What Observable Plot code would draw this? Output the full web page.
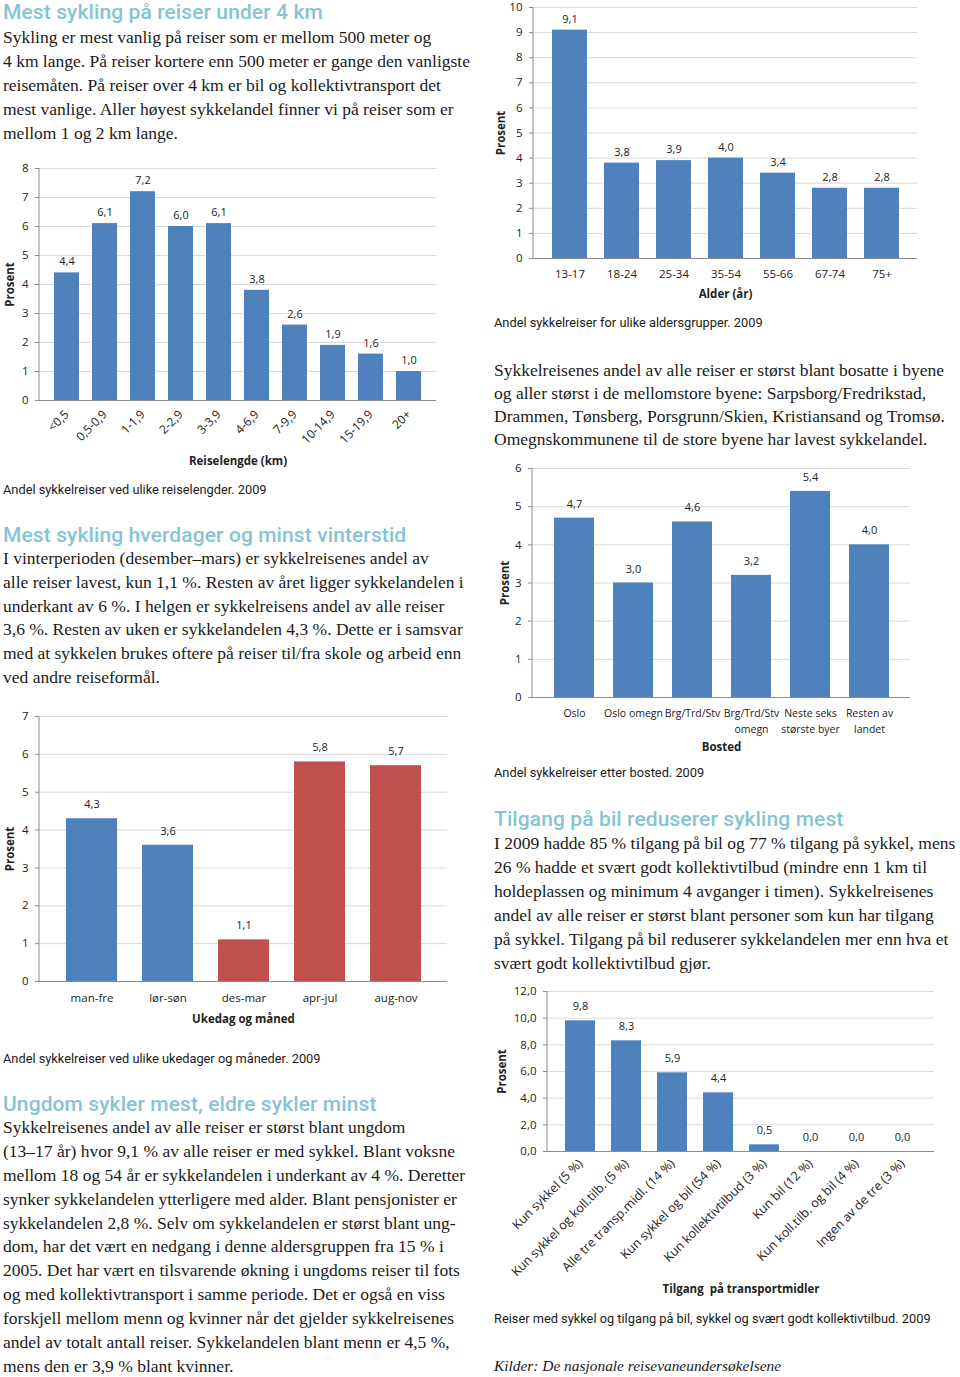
<!DOCTYPE html>
<html>
<head>
<meta charset="utf-8">
<script src="https://cdn.jsdelivr.net/npm/d3@7"></script>
<script src="https://cdn.jsdelivr.net/npm/@observablehq/plot@0.6"></script>
<style>
  body { margin: 0; background: #fff; }
  #page { position: relative; width: 960px; height: 1377px; overflow: hidden; background: #fff; }
  .h { position: absolute; font-family: Roboto, sans-serif; font-weight: 500; font-size: 21px; line-height: 26px; color: #86c4d4; white-space: nowrap; letter-spacing: 0.1px; }
  .p { position: absolute; font-family: "Liberation Serif", serif; font-size: 17.5px; color: #1a1a1a; white-space: nowrap; }
  .cap { position: absolute; font-family: Roboto, sans-serif; font-size: 12.8px; line-height: 16px; color: #1a1a1a; white-space: nowrap; }
  .src { position: absolute; font-family: "Liberation Serif", serif; font-style: italic; font-size: 15.4px; line-height: 20px; color: #1a1a1a; white-space: nowrap; }
  svg.chart { position: absolute; }
</style>
</head>
<body>
<div id="page"></div>
<script>
// ---------- data ----------
const lengthCats = ["<0,5", "0,5-0,9", "1-1,9", "2-2,9", "3-3,9", "4-6,9", "7-9,9", "10-14,9", "15-19,9", "20+"];
const lengthVals = [4.4, 6.1, 7.2, 6.0, 6.1, 3.8, 2.6, 1.9, 1.6, 1.0];

const periodCats = ["man-fre", "lør-søn", "des-mar", "apr-jul", "aug-nov"];
const periodVals = [4.3, 3.6, 1.1, 5.8, 5.7];
const periodGroup = ["Ukedag", "Ukedag", "Måned", "Måned", "Måned"];

const ageCats = ["13-17", "18-24", "25-34", "35-54", "55-66", "67-74", "75+"];
const ageVals = [9.1, 3.8, 3.9, 4.0, 3.4, 2.8, 2.8];

const homeCats = ["Oslo", "Oslo omegn", "Brg/Trd/Stv", "Brg/Trd/Stv\nomegn", "Neste seks\nstørste byer", "Resten av\nlandet"];
const homeVals = [4.7, 3.0, 4.6, 3.2, 5.4, 4.0];

const accessCats = ["Kun sykkel (5 %)", "Kun sykkel og koll.tilb. (5 %)", "Alle tre transp.midl. (14 %)", "Kun sykkel og bil (54 %)", "Kun kollektivtilbud (3 %)", "Kun bil (12 %)", "Kun koll.tilb. og bil (4 %)", "Ingen av de tre (3 %)"];
const accessVals = [9.8, 8.3, 5.9, 4.4, 0.5, 0.0, 0.0, 0.0];

// ---------- texts ----------
const head1 = "Mest sykling på reiser under 4 km";
const para1 = [
  "Sykling er mest vanlig på reiser som er mellom 500 meter og",
  "4 km lange. På reiser kortere enn 500 meter er gange den vanligste",
  "reisemåten. På reiser over 4 km er bil og kollektivtransport det",
  "mest vanlige. Aller høyest sykkelandel finner vi på reiser som er",
  "mellom 1 og 2 km lange."
];
const head2 = "Mest sykling hverdager og minst vinterstid";
const para2 = [
  "I vinterperioden (desember–mars) er sykkelreisenes andel av",
  "alle reiser lavest, kun 1,1 %. Resten av året ligger sykkelandelen i",
  "underkant av 6 %. I helgen er sykkelreisens andel av alle reiser",
  "3,6 %. Resten av uken er sykkelandelen 4,3 %. Dette er i samsvar",
  "med at sykkelen brukes oftere på reiser til/fra skole og arbeid enn",
  "ved andre reiseformål."
];
const head3 = "Ungdom sykler mest, eldre sykler minst";
const para3 = [
  "Sykkelreisenes andel av alle reiser er størst blant ungdom",
  "(13–17 år) hvor 9,1 % av alle reiser er med sykkel. Blant voksne",
  "mellom 18 og 54 år er sykkelandelen i underkant av 4 %. Deretter",
  "synker sykkelandelen ytterligere med alder. Blant pensjonister er",
  "sykkelandelen 2,8 %. Selv om sykkelandelen er størst blant ung-",
  "dom, har det vært en nedgang i denne aldersgruppen fra 15 % i",
  "2005. Det har vært en tilsvarende økning i ungdoms reiser til fots",
  "og med kollektivtransport i samme periode. Det er også en viss",
  "forskjell mellom menn og kvinner når det gjelder sykkelreisenes",
  "andel av totalt antall reiser. Sykkelandelen blant menn er 4,5 %,",
  "mens den er 3,9 % blant kvinner."
];
const head4 = "Tilgang på bil reduserer sykling mest";
const para4 = [
  "I 2009 hadde 85 % tilgang på bil og 77 % tilgang på sykkel, mens",
  "26 % hadde et svært godt kollektivtilbud (mindre enn 1 km til",
  "holdeplassen og minimum 4 avganger i timen). Sykkelreisenes",
  "andel av alle reiser er størst blant personer som kun har tilgang",
  "på sykkel. Tilgang på bil reduserer sykkelandelen mer enn hva et",
  "svært godt kollektivtilbud gjør."
];
const para5 = [
  "Sykkelreisenes andel av alle reiser er størst blant bosatte i byene",
  "og aller størst i de mellomstore byene: Sarpsborg/Fredrikstad,",
  "Drammen, Tønsberg, Porsgrunn/Skien, Kristiansand og Tromsø.",
  "Omegnskommunene til de store byene har lavest sykkelandel."
];
const cap1 = "Andel sykkelreiser ved ulike reiselengder. 2009";
const cap2 = "Andel sykkelreiser ved ulike ukedager og måneder. 2009";
const cap3 = "Andel sykkelreiser for ulike aldersgrupper. 2009";
const cap4 = "Andel sykkelreiser etter bosted. 2009";
const cap5 = "Reiser med sykkel og tilgang på bil, sykkel og svært godt kollektivtilbud. 2009";
const source = "Kilder: De nasjonale reisevaneundersøkelsene";

// ---------- layout helpers ----------
const page = document.getElementById("page");
function addDiv(cls, x, top, html, lh) {
  const d = document.createElement("div");
  d.className = cls;
  d.style.left = x + "px";
  d.style.top = top + "px";
  if (lh) d.style.lineHeight = lh + "px";
  d.innerHTML = html;
  page.appendChild(d);
}
const esc = s => s.replace(/&/g, "&amp;").replace(/</g, "&lt;");
function heading(x, cy, text) { addDiv("h", x, cy - 13, esc(text)); }
function para(x, firstCy, lh, lines) { addDiv("p", x, firstCy - lh / 2, lines.map(esc).join("<br>"), lh); }
function caption(x, cy, text) { addDiv("cap", x, cy - 8, esc(text)); }

heading(3, 12, head1);
para(3, 37, 24, para1);
heading(3, 535, head2);
para(3, 559, 23.8, para2);
heading(3, 1104, head3);
para(3, 1128, 23.87, para3);
heading(494, 819, head4);
para(494, 843.3, 24, para4);
para(494, 370.7, 23.1, para5);
caption(3, 490, cap1);
caption(3, 1059, cap2);
caption(494, 323, cap3);
caption(494, 773, cap4);
caption(494, 1319, cap5);
addDiv("src", 494, 1356, esc(source));

// ---------- chart helper ----------
const BLUE = "#4f81bd", RED = "#c0504d";
const comma1 = v => d3.format(".1f")(v).replace(".", ",");

function yAxisLine(max) {
  return (index, scales, values, dims) =>
    d3.create("svg:line")
      .attr("x1", dims.marginLeft).attr("x2", dims.marginLeft)
      .attr("y1", scales.y(max)).attr("y2", scales.y(0))
      .attr("stroke", "#8c8c8c").node();
}

function barChart(o) {
  const data = o.cats.map((c, i) => ({c, v: o.vals[i], g: o.groups ? o.groups[i] : "A"}));
  const ticks = d3.range(0, o.yMax + 1e-9, o.yStep);
  const svg = Plot.plot({
    width: o.width, height: o.height,
    marginLeft: o.m[0], marginRight: o.m[1], marginTop: o.m[2], marginBottom: o.m[3],
    style: {fontFamily: "'Open Sans', sans-serif", fontSize: "11px", color: "#222", background: "transparent", overflow: "visible"},
    x: {type: "band", domain: o.cats, padding: o.padding, axis: null},
    y: {domain: [0, o.yMax], axis: null},
    color: {domain: ["A", "Ukedag", "Måned"], range: [BLUE, BLUE, RED]},
    marks: [
      Plot.gridY(ticks, {stroke: "#d9d9d9", strokeOpacity: 1}),
      Plot.axisY(ticks, {tickSize: 4, tickPadding: 7, stroke: "#8c8c8c", tickFormat: o.yFmt, label: null, fontSize: 11.5}),
      Plot.axisX({tickSize: 0, tickPadding: o.tickPad, tickRotate: o.rotate || 0, label: null, fontSize: o.tickFont || 11, lineHeight: o.tickLH || 1}),
      Plot.barY(data, {x: "c", y: "v", fill: "g"}),
      Plot.text(data, {x: "c", y: "v", text: d => comma1(d.v), dy: o.valDy, fontSize: 11}),
      Plot.ruleY([0], {stroke: "#8c8c8c"}),
      yAxisLine(o.yMax),
      Plot.text([o.yTitle], {frameAnchor: "left", textAnchor: "middle", lineAnchor: "middle", dx: o.yTitleDx, rotate: -90, fontWeight: "bold", fontSize: 11.5}),
      Plot.text([o.xTitle], {frameAnchor: "bottom", textAnchor: "middle", lineAnchor: "middle", dy: o.xTitleDy, fontWeight: "bold", fontSize: 11.5})
    ]
  });
  svg.classList.add("chart");
  svg.style.left = o.left + "px";
  svg.style.top = o.top + "px";
  page.appendChild(svg);
}

const intFmt = d => String(d);

barChart({cats: lengthCats, vals: lengthVals, yMax: 8, yStep: 1, yFmt: intFmt, padding: 0.33,
  left: 0, top: 150, width: 480, height: 330, m: [39, 44, 18, 80],
  rotate: -45, tickPad: 12, tickFont: 12, valDy: -11, yTitle: "Prosent", yTitleDx: -29,
  xTitle: "Reiselengde (km)", xTitleDy: 61});

barChart({cats: periodCats, vals: periodVals, groups: periodGroup, yMax: 7, yStep: 1, yFmt: intFmt, padding: 0.33,
  left: 0, top: 700, width: 480, height: 330, m: [39, 33, 16, 49],
  tickPad: 12, tickFont: 11.5, valDy: -14, yTitle: "Prosent", yTitleDx: -29,
  xTitle: "Ukedag og måned", xTitleDy: 38});

barChart({cats: ageCats, vals: ageVals, yMax: 10, yStep: 1, yFmt: intFmt, padding: 0.33,
  left: 490, top: 0, width: 470, height: 305, m: [43, 43, 7, 47],
  tickPad: 11, tickFont: 11.5, valDy: -11, yTitle: "Prosent", yTitleDx: -32,
  xTitle: "Alder (år)", xTitleDy: 36});

barChart({cats: homeCats, vals: homeVals, yMax: 6, yStep: 1, yFmt: intFmt, padding: 0.33,
  left: 490, top: 455, width: 470, height: 300, m: [42, 50, 13, 58],
  tickPad: 9, tickFont: 10.5, tickLH: 1.45, valDy: -14, yTitle: "Prosent", yTitleDx: -27,
  xTitle: "Bosted", xTitleDy: 50});

barChart({cats: accessCats, vals: accessVals, yMax: 12, yStep: 2, yFmt: comma1, padding: 0.35,
  left: 490, top: 975, width: 470, height: 325, m: [57, 26, 16, 149],
  rotate: -45, tickPad: 10, tickFont: 12.5, valDy: -14, yTitle: "Prosent", yTitleDx: -45,
  xTitle: "Tilgang  på transportmidler", xTitleDy: 138});
</script>
</body>
</html>
